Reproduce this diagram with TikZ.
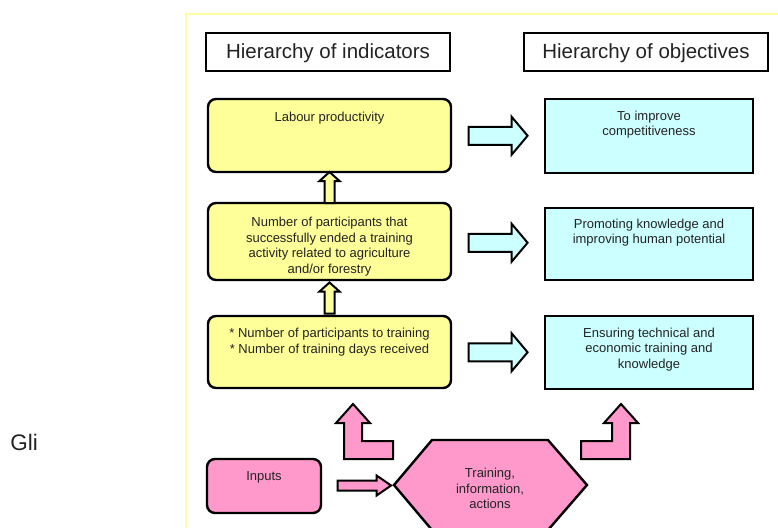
\documentclass[tikz,border=0pt]{standalone}
\usepackage{fontspec}
\setmainfont{Liberation Sans}
\usetikzlibrary{calc}

\definecolor{boxyellow}{RGB}{255,255,153}
\definecolor{boxcyan}{RGB}{204,255,255}
\definecolor{boxpink}{RGB}{255,153,204}
\definecolor{frameyellow}{RGB}{255,255,160}
\definecolor{txtgray}{RGB}{35,35,35}

\tikzset{
  hdrbox/.style={draw, line width=2pt, minimum width=244pt, minimum height=38pt,
    font=\fontsize{20.5}{24}\selectfont, text=txtgray},
  indbox/.style={draw, line width=2.4pt, fill=boxyellow, rounded corners=8pt, minimum width=243pt},
  objbox/.style={draw, line width=2pt, fill=boxcyan, minimum width=208pt},
  inpbox/.style={draw, line width=2.4pt, fill=boxpink, rounded corners=8pt,
    minimum width=114pt, minimum height=54pt},
  boxtxt/.style={anchor=north, inner sep=0pt, align=center, text=txtgray,
    font=\fontsize{13}{15.5}\selectfont},
  rarr/.pic={\draw[line width=2pt, fill=boxcyan] (-29.5,-9) -- (13.5,-9) -- (13.5,-19)
    -- (29.5,0) -- (13.5,19) -- (13.5,9) -- (-29.5,9) -- cycle;},
  uarr/.pic={\draw[line width=2pt, fill=boxyellow] (-5,15.5) -- (-5,-6.5) -- (-10,-6.5)
    -- (0,-15.5) -- (10,-6.5) -- (5,-6.5) -- (5,15.5) -- cycle;},
  sarr/.pic={\draw[line width=2pt, fill=boxpink] (-26.5,-5) -- (12.5,-5) -- (12.5,-10)
    -- (27,0) -- (12.5,10) -- (12.5,5) -- (-26.5,5) -- cycle;}
}

\begin{document}
\begin{tikzpicture}[x=1pt, y=-1pt]
\useasboundingbox (0,0) rectangle (778,527);

% frame
\draw[frameyellow, line width=2.5pt] (186,14) rectangle (800,545);

\node[font=\fontsize{22.5}{26}\selectfont, text=txtgray] (gli) at (24,442) {Gli};

% headers
\node[hdrbox, text depth=2pt] (hdrind) at (328,52) {Hierarchy of indicators};
\node[hdrbox, text depth=2pt] (hdrobj) at (646,52) {Hierarchy of objectives};

% indicators
\node[indbox, minimum height=73pt] (ind1) at (329.5,135.5) {};
\node[indbox, minimum height=77pt] (ind2) at (329.5,241.5) {};
\node[indbox, minimum height=72pt] (ind3) at (329.5,352) {};
\node[boxtxt] (ind1t) at ([yshift=-14.5pt]ind1.north) {Labour productivity};
\node[boxtxt] (ind2t) at ([yshift=-15.5pt]ind2.north)
  {Number of participants that\\successfully ended a training\\activity related to agriculture\\and/or forestry};
\node[boxtxt] (ind3t) at ([yshift=-13.5pt]ind3.north)
  {* Number of participants to training\\* Number of training days received};

% objectives
\node[objbox, minimum height=74pt] (obj1) at (649,136) {};
\node[objbox, minimum height=72pt] (obj2) at (649,244) {};
\node[objbox, minimum height=73pt] (obj3) at (649,352.5) {};
\node[boxtxt] (obj1t) at ([yshift=-12.5pt]obj1.north) {To improve\\competitiveness};
\node[boxtxt] (obj2t) at ([yshift=-11.5pt]obj2.north) {Promoting knowledge and\\improving human potential};
\node[boxtxt] (obj3t) at ([yshift=-12.5pt]obj3.north) {Ensuring technical and\\economic training and\\knowledge};

% arrows
\pic at ($(ind1.east)!0.5!(obj1.west)$) {rarr};
\pic at ($(ind2.east)!0.5!(obj2.west)$) {rarr};
\pic at ($(ind3.east)!0.5!(obj3.west)$) {rarr};
\pic at ($(ind2.north)!0.5!(ind1.south)$) {uarr};
\pic at ($(ind3.north)!0.5!(ind2.south)$) {uarr};

% inputs and actions
\node[inpbox] (inp) at (264,486) {};
\node[boxtxt] (inpt) at ([yshift=-14pt]inp.north) {Inputs};
\coordinate (actw) at (394,485);
\draw[line width=2.4pt, fill=boxpink] (actw) -- (432,440) -- (548,440) -- (587,485)
  -- (548,530) -- (432,530) -- cycle;
\node[boxtxt, anchor=center] (act) at (490,488.5) {Training,\\information,\\actions};
\pic at ($(inp.east)!0.5!(actw)+(6,0)$) {sarr};

\draw[line width=2pt, fill=boxpink] (344,459) -- (344,423) -- (336,423) -- (353,404)
  -- (370,423) -- (362,423) -- (362,441) -- (393,441) -- (393,459) -- cycle;
\draw[line width=2pt, fill=boxpink] (581,441) -- (612,441) -- (612,423) -- (604,423)
  -- (621,404) -- (638,423) -- (630,423) -- (630,459) -- (581,459) -- cycle;
\end{tikzpicture}
\end{document}
